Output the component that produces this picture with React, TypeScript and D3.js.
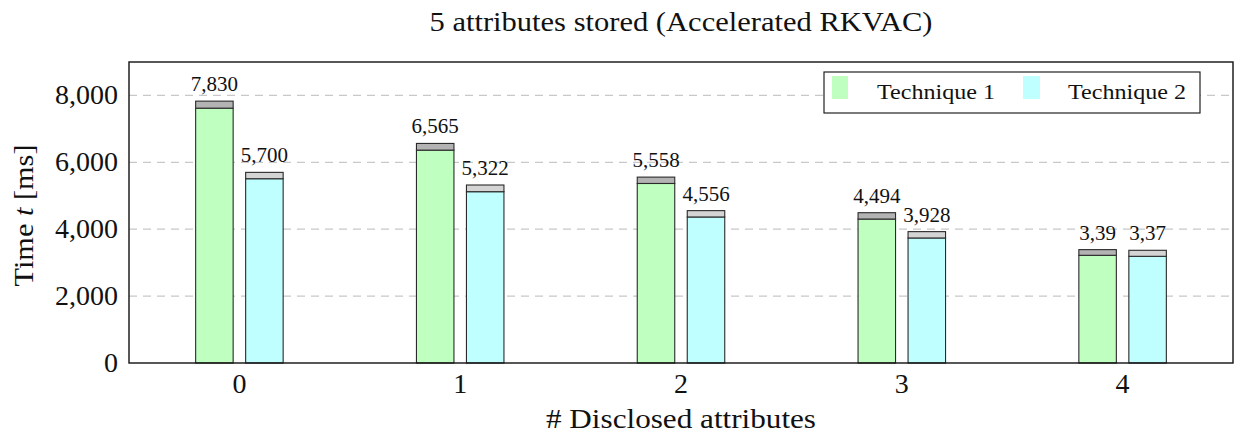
import React from 'react'
import * as d3 from 'd3'

// values
const groups = ['0', '1', '2', '3', '4']
const tech1Total = [7830, 6565, 5558, 4494, 3390]
const tech2Total = [5700, 5322, 4556, 3928, 3370]
const tech1Top = [210, 200, 190, 190, 170]
const tech2Top = [190, 200, 190, 190, 180]
const tech1Labels = ['7,830', '6,565', '5,558', '4,494', '3,39']
const tech2Labels = ['5,700', '5,322', '4,556', '3,928', '3,37']
const yTicks = [0, 2000, 4000, 6000, 8000]

const W = 1236
const H = 434
const left = 129
const right = 1233
const top = 62
const bottom = 363
const font = '"Liberation Serif", "DejaVu Serif", serif'

const App: React.FC = () => {
  const x = d3.scaleLinear().domain([-0.5, groups.length - 0.5]).range([left, right])
  const y = d3.scaleLinear().domain([0, 9000]).range([bottom, top])
  const fmt = d3.format(',')
  const barW = 37.5
  const offset = 25

  const series = [
    { total: tech1Total, cap: tech1Top, labels: tech1Labels, fill: '#bfffbf', capFill: '#b3b3b3', dx: -offset },
    { total: tech2Total, cap: tech2Top, labels: tech2Labels, fill: '#bfffff', capFill: '#d4d4d4', dx: offset },
  ]

  return (
    <svg width={W} height={H} style={{ position: 'absolute', left: 0, top: 0, background: '#fff' }} fontFamily={font}>
      <text x={(left + right) / 2} y={31} textAnchor="middle" fontSize={28} fill="#111" textLength={503} lengthAdjust="spacingAndGlyphs">
        5 attributes stored (Accelerated RKVAC)
      </text>

      {/* grid */}
      {yTicks.filter(t => t > 0).map(t => (
        <line key={t} x1={left} x2={right} y1={y(t)} y2={y(t)} stroke="#c8c8c8" strokeWidth={1.2} strokeDasharray="8 6" />
      ))}

      {/* bars */}
      {series.map((s, si) =>
        groups.map((g, i) => {
          const cx = x(i) + s.dx
          const main = s.total[i] - s.cap[i]
          return (
            <g key={`${si}-${g}`}>
              <rect x={cx - barW / 2} y={y(main)} width={barW} height={y(0) - y(main)} fill={s.fill} stroke="#2a2a2a" strokeWidth={1.1} />
              <rect x={cx - barW / 2} y={y(s.total[i])} width={barW} height={y(main) - y(s.total[i])} fill={s.capFill} stroke="#2a2a2a" strokeWidth={1.1} />
              <text x={cx} y={y(s.total[i]) - 10} textAnchor="middle" fontSize={21} fill="#111">{s.labels[i]}</text>
            </g>
          )
        })
      )}

      {/* frame */}
      <rect x={left} y={top} width={right - left} height={bottom - top} fill="none" stroke="#111" strokeWidth={1.4} />

      {/* y ticks */}
      {yTicks.map(t => (
        <text key={t} x={118} y={y(t) + 9} textAnchor="end" fontSize={28} fill="#111">{fmt(t)}</text>
      ))}

      {/* x ticks */}
      {groups.map((g, i) => (
        <text key={g} x={x(i)} y={393} textAnchor="middle" fontSize={28} fill="#111">{g}</text>
      ))}

      <text x={(left + right) / 2} y={428} textAnchor="middle" fontSize={28} fill="#111" textLength={270} lengthAdjust="spacingAndGlyphs">
        # Disclosed attributes
      </text>
      <text transform={`translate(33,${(top + bottom) / 2 + 3}) rotate(-90)`} textAnchor="middle" fontSize={28} fill="#111" textLength={142} lengthAdjust="spacingAndGlyphs">
        Time <tspan fontStyle="italic">t</tspan> [ms]
      </text>

      {/* legend */}
      <g>
        <rect x={824} y={72} width={376} height={41} fill="#fff" stroke="#222" strokeWidth={1.2} />
        <rect x={832} y={76} width={16} height={23} fill="#bfffbf" />
        <text x={877} y={99} fontSize={22} fill="#111" textLength={118} lengthAdjust="spacingAndGlyphs">Technique 1</text>
        <rect x={1023} y={76} width={17} height={23} fill="#bfffff" />
        <text x={1068} y={99} fontSize={22} fill="#111" textLength={118} lengthAdjust="spacingAndGlyphs">Technique 2</text>
      </g>
    </svg>
  )
}

export default App
